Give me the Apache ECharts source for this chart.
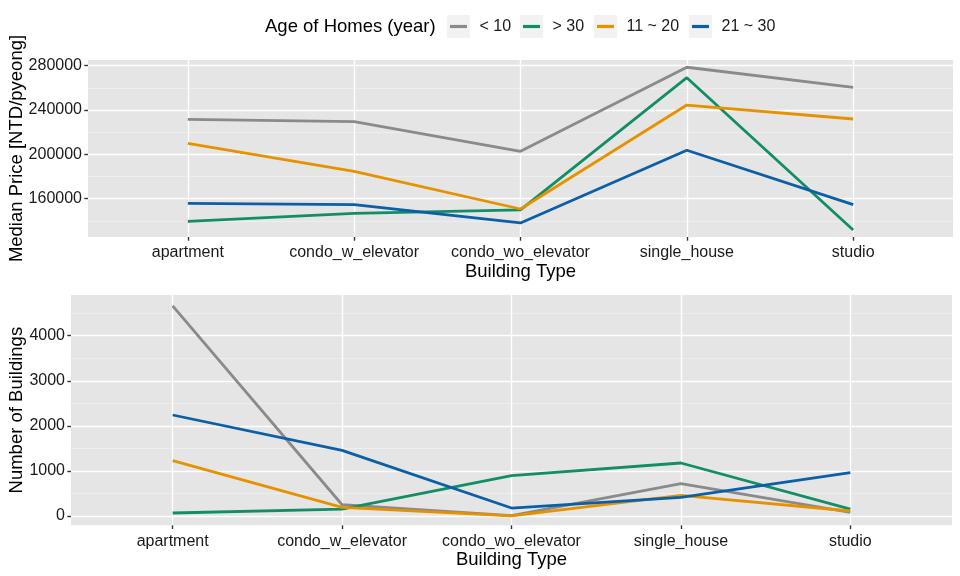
<!DOCTYPE html>
<html>
<head>
<meta charset="utf-8">
<script src="https://cdn.jsdelivr.net/npm/echarts@6/dist/echarts.min.js"></script>
<style>
html,body{margin:0;padding:0;background:#fff;}
#c{width:960px;height:576px;}
</style>
</head>
<body>
<div id="c"></div>
<script>
// ---- data ----
const categories = ['apartment', 'condo_w_elevator', 'condo_wo_elevator', 'single_house', 'studio'];
const ageGroups = ['< 10', '> 30', '11 ~ 20', '21 ~ 30'];

// Median price [NTD/pyeong]
const priceLt10   = [231600, 229500, 202800, 278600, 260500];
const priceGt30   = [139600, 146800, 150000, 269200, 131700];
const price11to20 = [210000, 184700, 150700, 244500, 231900];
const price21to30 = [155800, 154600, 138100, 203700, 154600];

// Number of buildings
const countLt10   = [4660, 250, 10, 717, 82];
const countGt30   = [67, 155, 895, 1176, 155];
const count11to20 = [1228, 190, 5, 459, 111];
const count21to30 = [2241, 1457, 177, 414, 961];

// tick labels
const priceTicks = [160000, 200000, 240000, 280000];
const priceMinorTicks = [140000, 180000, 220000, 260000];
const countTicks = [0, 1000, 2000, 3000, 4000];
const countMinorTicks = [500, 1500, 2500, 3500, 4500];

// ---- style ----
const colors = ['#8A8A8A', '#138E64', '#E69200', '#0B5FA6'];
const FONT = "'Liberation Sans', Arial, Helvetica, sans-serif";
const TXT = '#1A1A1A';

const priceSeries = [priceLt10, priceGt30, price11to20, price21to30];
const countSeries = [countLt10, countGt30, count11to20, count21to30];

function toPairs(arr) { return arr.map((v, i) => [i, v]); }

const catIdx = categories.map((c, i) => i);

function xAxisFor(gridIndex) {
  return {
    type: 'value', gridIndex: gridIndex, min: -0.6, max: 4.6,
    name: 'Building Type', nameLocation: 'middle', nameGap: 25, nameMoveOverlap: false,
    nameTextStyle: { fontFamily: FONT, fontSize: 18.5, color: '#000' },
    axisLine: { show: false, onZero: false },
    axisTick: { show: true, customValues: catIdx, length: 3.7, lineStyle: { color: '#333', width: 1.4 } },
    axisLabel: { customValues: catIdx, margin: 8, fontFamily: FONT, fontSize: 16, color: TXT,
      formatter: v => categories[Math.round(v)] },
    splitLine: { show: true, lineStyle: { color: '#FFFFFF', width: 1.4 } }
  };
}

function yMajor(gridIndex, min, max, ticks, name, gap) {
  return {
    type: 'value', gridIndex: gridIndex, min: min, max: max, position: 'left',
    name: name, nameLocation: 'middle', nameGap: gap, nameMoveOverlap: false,
    nameTextStyle: { fontFamily: FONT, fontSize: 18.5, color: '#000' },
    axisLine: { show: false, onZero: false },
    axisTick: { show: true, customValues: ticks, length: 3.7, lineStyle: { color: '#333', width: 1.4 } },
    axisLabel: { customValues: ticks, margin: 6, fontFamily: FONT, fontSize: 16, color: TXT,
      formatter: v => String(v) },
    splitLine: { show: true, lineStyle: { color: '#FFFFFF', width: 1.4 } }
  };
}
function yMinor(gridIndex, min, max, ticks) {
  return {
    type: 'value', gridIndex: gridIndex, min: min, max: max, position: 'left',
    axisLine: { show: false, onZero: false },
    axisTick: { show: false, customValues: ticks },
    axisLabel: { show: false, customValues: ticks },
    splitLine: { show: true, lineStyle: { color: '#F2F2F2', width: 0.7 } }
  };
}

const series = [];
ageGroups.forEach((g, i) => {
  series.push({
    name: g, type: 'line', xAxisIndex: 0, yAxisIndex: 0,
    data: toPairs(priceSeries[i]), symbol: 'none',
    lineStyle: { color: colors[i], width: 2.8 }, itemStyle: { color: colors[i] }
  });
});
ageGroups.forEach((g, i) => {
  series.push({
    name: g, type: 'line', xAxisIndex: 1, yAxisIndex: 2,
    data: toPairs(countSeries[i]), symbol: 'none',
    lineStyle: { color: colors[i], width: 2.8 }, itemStyle: { color: colors[i] }
  });
});

// legend: one component per key so the key boxes line up
const keyX = [447, 520, 594, 689];
const legends = ageGroups.map((g, i) => ({
  data: [{ name: g, itemStyle: { color: colors[i] } }],
  left: keyX[i] + 3, top: 26.5 - 10, padding: 0,
  itemWidth: 17, itemHeight: 3.2, icon: 'rect',
  selectedMode: false,
  textStyle: { fontFamily: FONT, fontSize: 16, color: TXT, padding: [0, 0, 0, 7.5], lineHeight: 20 }
}));

const graphics = [
  { type: 'text', left: 265, top: 27 - 9.5, style: { text: 'Age of Homes (year)', font: "18.5px 'Liberation Sans', Arial, sans-serif", fill: '#000' } }
].concat(keyX.map(x => ({
  type: 'rect', z: -1, shape: { x: x, y: 15, width: 23, height: 23 }, style: { fill: '#F2F2F2' }
})));

const chart = echarts.init(document.getElementById('c'), null, { renderer: 'canvas' });
chart.setOption({
  animation: false,
  backgroundColor: '#FFFFFF',
  legend: legends,
  graphic: graphics,
  grid: [
    { left: 88, right: 7, top: 60, height: 177, show: true, backgroundColor: '#E5E5E5', borderWidth: 0, outerBoundsMode: 'none', containLabel: false },
    { left: 71, right: 8, top: 295, height: 230.3, show: true, backgroundColor: '#E5E5E5', borderWidth: 0, outerBoundsMode: 'none', containLabel: false }
  ],
  xAxis: [xAxisFor(0), xAxisFor(1)],
  yAxis: [
    yMajor(0, 125440, 285140, priceTicks, 'Median Price [NTD/pyeong]', 62),
    yMinor(0, 125440, 285140, priceMinorTicks),
    yMajor(1, -206, 4903, countTicks, 'Number of Buildings', 45),
    yMinor(1, -206, 4903, countMinorTicks)
  ],
  series: series
});
</script>
</body>
</html>
